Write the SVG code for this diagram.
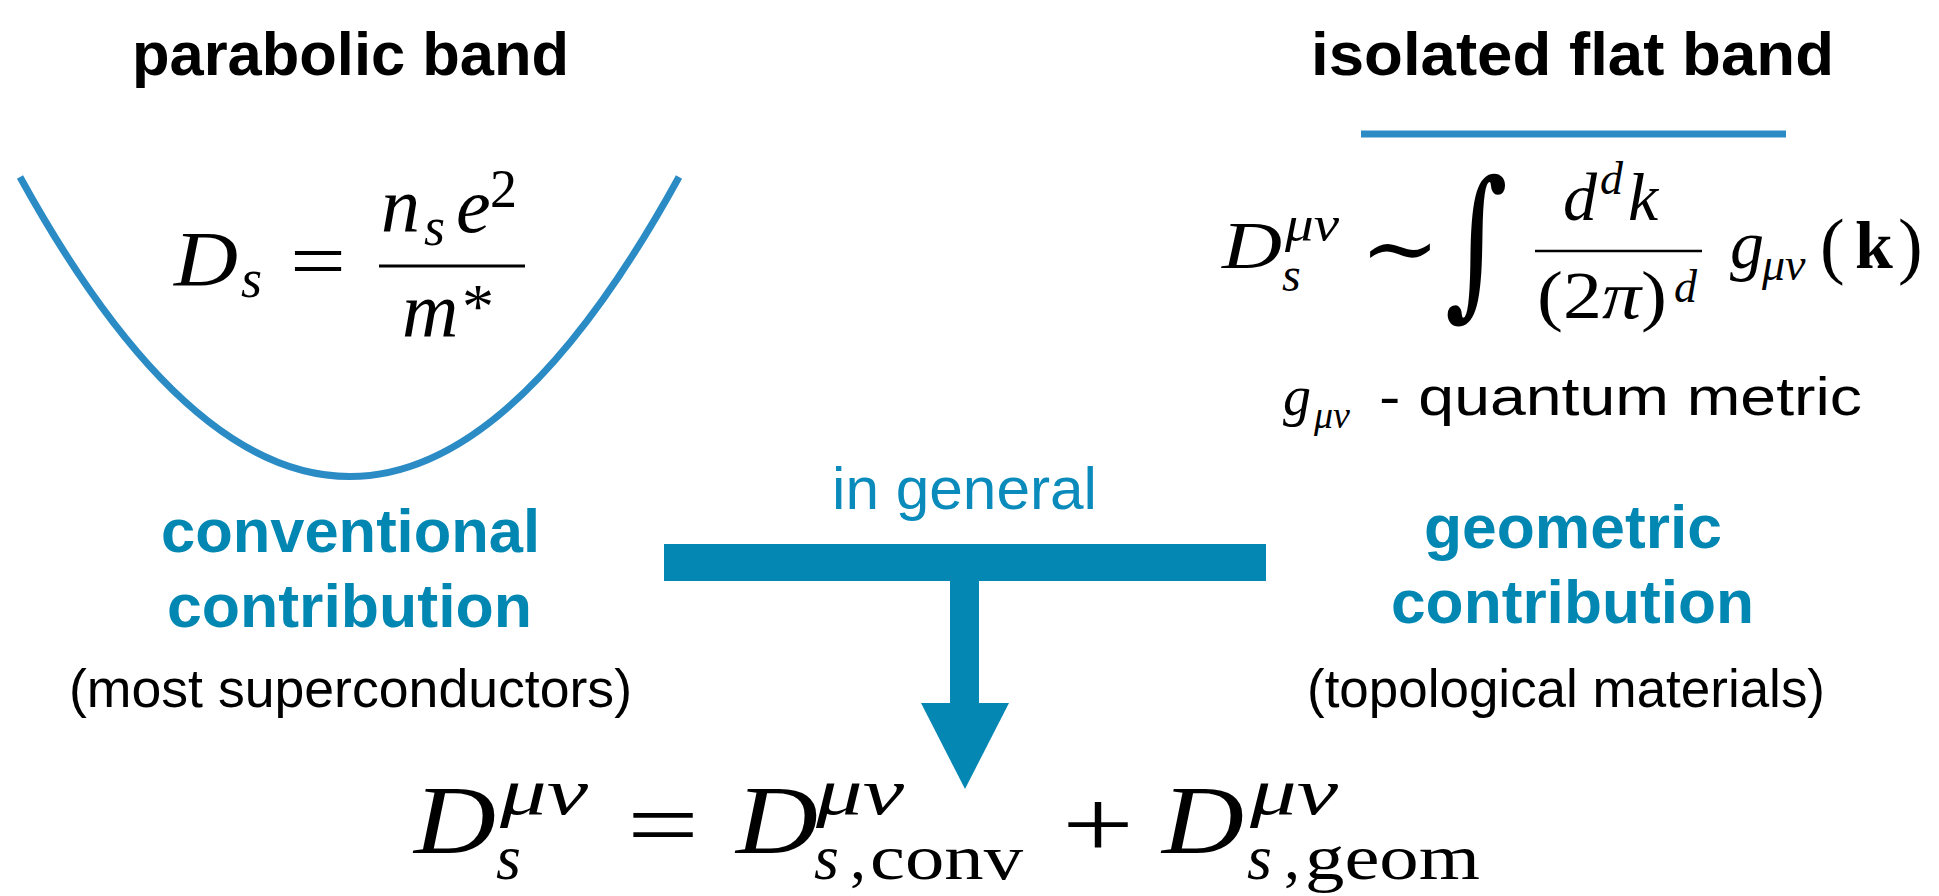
<svg xmlns="http://www.w3.org/2000/svg" width="1939" height="896" viewBox="0 0 1939 896">
<style>
.title{font-family:"Liberation Sans",Arial,sans-serif;font-weight:bold;font-size:62px;fill:#000}
.blue{font-family:"Liberation Sans",Arial,sans-serif;font-weight:bold;font-size:62px;fill:#0287b3}
.note{font-family:"Liberation Sans",Arial,sans-serif;font-size:53px;fill:#000}
.gen{font-family:"Liberation Sans",Arial,sans-serif;font-size:60px;fill:#0a8bbb}
.mi{font-family:"Liberation Serif","Times New Roman",serif;font-style:italic;fill:#000}
.mr{font-family:"Liberation Serif","Times New Roman",serif;fill:#000}
.sym{font-family:"DejaVu Serif",serif;fill:#000}
.band{fill:none;stroke:#2b8bc5;stroke-width:7}
.conn{fill:#0487b3}
</style>
<rect width="1939" height="896" fill="#fff"/>

<g id="parabolic-band">
<text class="title" x="132" y="75" textLength="437" lengthAdjust="spacingAndGlyphs">parabolic band</text>
<path class="band" d="M20,177 Q350,776 679,177"/>
</g>

<g id="formula-conventional">
<text class="mi" x="174" y="285" font-size="78" textLength="64" lengthAdjust="spacingAndGlyphs">D</text>
<text class="mi" x="241" y="297" font-size="54">s</text>
<text class="mr" x="318" y="287" font-size="78" text-anchor="middle" textLength="56" lengthAdjust="spacingAndGlyphs">=</text>
<line x1="379" y1="266" x2="525" y2="266" stroke="#000" stroke-width="3"/>
<text class="mi" x="381" y="232" font-size="78">n</text>
<text class="mi" x="424" y="245" font-size="54">s</text>
<text class="mi" x="456" y="232" font-size="78">e</text>
<text class="mr" x="490" y="207" font-size="54">2</text>
<text class="mi" x="402" y="337" font-size="78">m</text>
<text class="mr" x="462" y="328" font-size="64">*</text>
</g>

<g id="flat-band">
<text class="title" x="1311" y="75" textLength="523" lengthAdjust="spacingAndGlyphs">isolated flat band</text>
<line class="band" x1="1361" y1="134" x2="1786" y2="134"/>
</g>

<g id="formula-geometric">
<text class="mi" x="1222" y="268" font-size="68" textLength="60" lengthAdjust="spacingAndGlyphs">D</text>
<text class="mi" x="1285" y="241" font-size="50" textLength="54" lengthAdjust="spacingAndGlyphs">μν</text>
<text class="mi" x="1282" y="291" font-size="48">s</text>
<text class="sym" x="1360" y="279" font-size="90" textLength="80" lengthAdjust="spacingAndGlyphs">∼</text>
<text class="sym" x="1445" y="297" font-size="163" textLength="63" lengthAdjust="spacingAndGlyphs">∫</text>
<line x1="1535" y1="251" x2="1702" y2="251" stroke="#000" stroke-width="2.5"/>
<text class="mi" x="1563" y="220" font-size="68">d</text>
<text class="mi" x="1600" y="194" font-size="46">d</text>
<text class="mi" x="1628" y="220" font-size="68">k</text>
<text class="mr" x="1537" y="318" font-size="68" textLength="130" lengthAdjust="spacingAndGlyphs">(2<tspan class="mi">π</tspan>)</text>
<text class="mi" x="1674" y="302" font-size="46">d</text>
<text class="mi" x="1730" y="268" font-size="68">g</text>
<text class="mi" x="1762" y="280" font-size="46">μν</text>
<text class="mr" x="1820" y="270" font-size="74">(</text>
<text class="mr" x="1855" y="268" font-size="68" font-weight="bold">k</text>
<text class="mr" x="1898" y="270" font-size="74">)</text>
</g>

<g id="metric-note">
<text class="mi" x="1283" y="415" font-size="56">g</text>
<text class="mi" x="1314" y="428" font-size="38">μν</text>
<text class="note" x="1379" y="415" font-size="54" textLength="483" lengthAdjust="spacingAndGlyphs">- quantum metric</text>
</g>

<g id="conventional">
<text class="blue" x="161" y="552" textLength="379" lengthAdjust="spacingAndGlyphs">conventional</text>
<text class="blue" x="167" y="627" textLength="365" lengthAdjust="spacingAndGlyphs">contribution</text>
<text class="note" x="69" y="707" textLength="563" lengthAdjust="spacingAndGlyphs">(most superconductors)</text>
</g>

<g id="geometric">
<text class="blue" x="1424" y="548" textLength="298" lengthAdjust="spacingAndGlyphs">geometric</text>
<text class="blue" x="1391" y="623" textLength="363" lengthAdjust="spacingAndGlyphs">contribution</text>
<text class="note" x="1307" y="707" textLength="518" lengthAdjust="spacingAndGlyphs">(topological materials)</text>
</g>

<g id="in-general">
<text class="gen" x="832" y="509" textLength="265" lengthAdjust="spacingAndGlyphs">in general</text>
</g>

<g id="connectors">
<rect class="conn" x="664" y="544" width="602" height="37"/>
<rect class="conn" x="950" y="580" width="29" height="124"/>
<polygon class="conn" points="921,703 1009,703 965,789"/>
</g>

<g id="formula-total">
<text class="mi" x="414" y="853" font-size="98" textLength="82" lengthAdjust="spacingAndGlyphs">D</text>
<text class="mi" x="500" y="814" font-size="66" textLength="88" lengthAdjust="spacingAndGlyphs">μν</text>
<text class="mi" x="496" y="879" font-size="64">s</text>
<text class="mr" x="663" y="857" font-size="98" text-anchor="middle" textLength="72" lengthAdjust="spacingAndGlyphs">=</text>
<text class="mi" x="736" y="853" font-size="98" textLength="82" lengthAdjust="spacingAndGlyphs">D</text>
<text class="mi" x="816" y="814" font-size="66" textLength="88" lengthAdjust="spacingAndGlyphs">μν</text>
<text class="mi" x="814" y="879" font-size="64">s</text>
<text class="mr" x="850" y="879" font-size="64">,</text>
<text class="mr" x="870" y="879" font-size="64" textLength="153" lengthAdjust="spacingAndGlyphs">conv</text>
<text class="mr" x="1098" y="857" font-size="98" text-anchor="middle" textLength="72" lengthAdjust="spacingAndGlyphs">+</text>
<text class="mi" x="1162" y="853" font-size="98" textLength="82" lengthAdjust="spacingAndGlyphs">D</text>
<text class="mi" x="1250" y="814" font-size="66" textLength="88" lengthAdjust="spacingAndGlyphs">μν</text>
<text class="mi" x="1247" y="879" font-size="64">s</text>
<text class="mr" x="1284" y="879" font-size="64">,</text>
<text class="mr" x="1305" y="879" font-size="64" textLength="175" lengthAdjust="spacingAndGlyphs">geom</text>
</g>
</svg>
